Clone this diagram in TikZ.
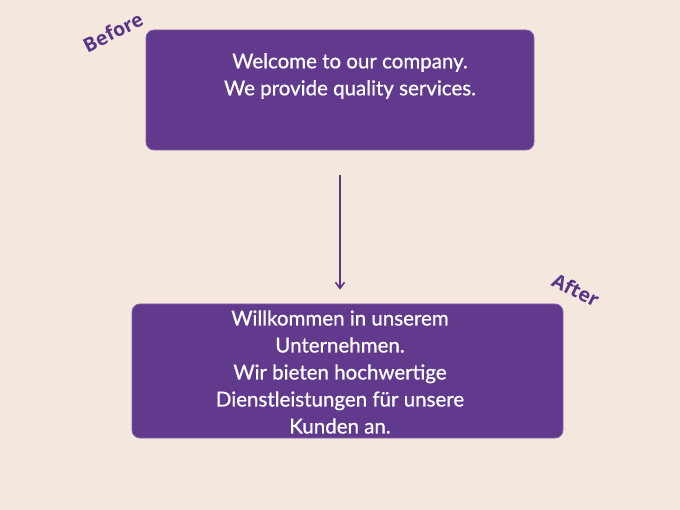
\documentclass[tikz,border=0pt]{standalone}
\usepackage{fontspec}
\setmainfont{Lato}
\newfontfamily\boxfont{Lato}[FakeBold=0.7]
\newfontfamily\tagfont{Open Sans}
\usetikzlibrary{arrows.meta}
\definecolor{bgcream}{RGB}{244,232,222}
\definecolor{boxpurple}{RGB}{97,58,142}
\definecolor{tagpurple}{RGB}{90,52,136}
\tikzset{
  textbox/.style={fill=boxpurple, draw=boxpurple!80!white, line width=0.8pt, rounded corners=8pt, inner sep=0pt},
  boxtext/.style={text=white, align=center, font=\boxfont\fontsize{20.5}{27}\selectfont},
  tag/.style={text=tagpurple, font=\tagfont\fontsize{19.5}{20}\selectfont\bfseries, inner sep=0pt},
}
\begin{document}
\begin{tikzpicture}[x=1pt,y=-1pt]
\fill[bgcream] (0,0) rectangle (680,510);
\useasboundingbox (0,0) rectangle (680,510);

\node[textbox, minimum width=388pt, minimum height=120pt] (before) at (340,90) {};
\node[textbox, minimum width=431pt, minimum height=134pt] (after) at (347.5,371) {};

\node[boxtext] (beforetext) at (350,76) {Welcome to our company.\\We provide quality services.};
\node[boxtext] (aftertext) at (340,372) {Willkommen in unserem\\Unternehmen.\\Wir bieten hochwertige\\Dienstleistungen für unsere\\Kunden an.};

\node[tag, rotate=27] (beforetag) at (113,32) {Before};
\node[tag, rotate=-27] (aftertag) at (576,290) {After};

\draw[tagpurple, line width=1.6pt, -{Straight Barb[length=6pt,width=9pt]}, shorten <=25pt, shorten >=14pt] (before.south) -- (before.south |- after.north);

\end{tikzpicture}
\end{document}
